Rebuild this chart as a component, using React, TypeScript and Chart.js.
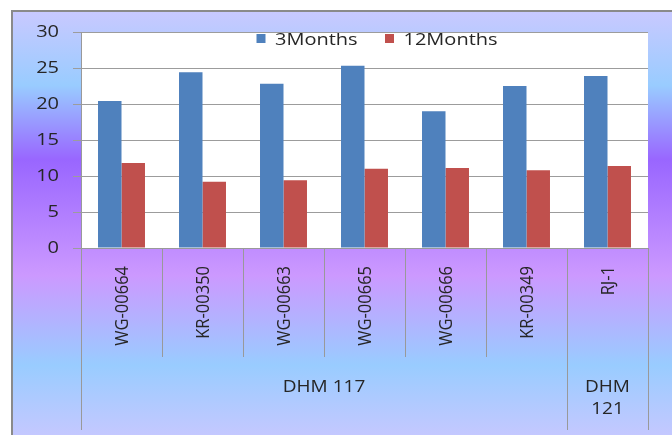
import React, { useEffect, useRef } from "react";
import { Chart, registerables } from "chart.js";

Chart.register(...registerables);

const categories = ["WG-00664", "KR-00350", "WG-00663", "WG-00665", "WG-00666", "KR-00349", "RJ-1"];
const groupLabels = [["DHM 117"], ["DHM", "121"]];
const groupSizes = [6, 1];
const seriesNames = ["3Months", "12Months"];
const months3 = [20.4, 24.4, 22.8, 25.3, 19.0, 22.5, 23.9];
const months12 = [11.8, 9.2, 9.4, 11.0, 11.1, 10.8, 11.4];
const yTicks = [0, 5, 10, 15, 20, 25, 30];

const BLUE = "#4f81bd";
const RED = "#c0504d";
const GRID = "#9c9c9c";
const AXIS = "#999999";
const TEXT = "#262626";
const W = 672;
const H = 435;

function stretchText(
  ctx: CanvasRenderingContext2D,
  text: string,
  x: number,
  y: number,
  font: string,
  align: CanvasTextAlign,
  sx: number,
  rotate = false
) {
  ctx.save();
  ctx.translate(x, y);
  ctx.scale(sx, 1);
  if (rotate) ctx.rotate(-Math.PI / 2);
  ctx.font = font;
  ctx.textAlign = align;
  ctx.textBaseline = "alphabetic";
  ctx.fillStyle = TEXT;
  ctx.fillText(text, 0, 0);
  ctx.restore();
}

const bgPlugin = {
  id: "bgPlugin",
  beforeDraw(chart: any) {
    const ctx: CanvasRenderingContext2D = chart.ctx;
    const { left, top, right, bottom } = chart.chartArea;
    ctx.save();
    ctx.fillStyle = "#ffffff";
    ctx.fillRect(0, 0, W, H);
    const g = ctx.createLinearGradient(0, 11, 0, H);
    g.addColorStop(0, "#c9c9ff");
    g.addColorStop(0.175, "#99ccff");
    g.addColorStop(0.351, "#9966ff");
    g.addColorStop(0.623, "#cc99ff");
    g.addColorStop(0.835, "#99ccff");
    g.addColorStop(1, "#c4c8ff");
    ctx.fillStyle = g;
    ctx.fillRect(12, 11, W - 12, H - 11);
    ctx.strokeStyle = "#8a8a8a";
    ctx.lineWidth = 2;
    ctx.beginPath();
    ctx.moveTo(12, H);
    ctx.lineTo(12, 11);
    ctx.lineTo(W, 11);
    ctx.stroke();
    ctx.fillStyle = "#ffffff";
    ctx.fillRect(left, top, right - left, bottom - top);
    ctx.restore();
  },
};

const labelsPlugin = {
  id: "labelsPlugin",
  afterDraw(chart: any) {
    const ctx: CanvasRenderingContext2D = chart.ctx;
    const { left, top, right, bottom } = chart.chartArea;
    const xs = chart.scales.x;
    const ys = chart.scales.y;
    const n = categories.length;
    const groupBottom = H - 5;
    const innerBottom = bottom + 109;

    // y tick labels
    for (const v of yTicks) {
      const py = ys.getPixelForValue(v);
      stretchText(ctx, String(v), left - 22, py + 5, "16px 'Open Sans'", "right", 1.25);
    }

    // boundaries
    const bounds: number[] = [left];
    for (let i = 1; i < n; i++) {
      bounds.push((xs.getPixelForValue(i - 1) + xs.getPixelForValue(i)) / 2);
    }
    bounds.push(right);

    const groupEdges = new Set<number>();
    let acc = 0;
    groupEdges.add(0);
    for (const s of groupSizes) {
      acc += s;
      groupEdges.add(acc);
    }

    ctx.save();
    ctx.strokeStyle = AXIS;
    ctx.lineWidth = 1;
    for (let i = 0; i <= n; i++) {
      const x = Math.round(bounds[i]) + 0.5;
      const y2 = groupEdges.has(i) ? groupBottom : innerBottom;
      ctx.beginPath();
      ctx.moveTo(x, bottom);
      ctx.lineTo(x, y2);
      ctx.stroke();
    }
    ctx.restore();

    // category labels rotated
    for (let i = 0; i < n; i++) {
      const cx = xs.getPixelForValue(i);
      stretchText(ctx, categories[i], cx + 6.5, bottom + 18, "16.5px 'Open Sans'", "right", 1.15, true);
    }

    // group labels
    acc = 0;
    groupSizes.forEach((s, gi) => {
      const x0 = bounds[acc];
      const x1 = bounds[acc + s];
      const cx = (x0 + x1) / 2;
      groupLabels[gi].forEach((line, li) => {
        stretchText(ctx, line, cx, bottom + 144 + li * 22, "17px 'Open Sans'", "center", 1.12);
      });
      acc += s;
    });

    // legend
    const colors = [BLUE, RED];
    const lx = left + 175.5;
    const steps = [0, 128.5];
    seriesNames.forEach((name, i) => {
      const x = lx + steps[i];
      ctx.save();
      ctx.fillStyle = colors[i];
      ctx.fillRect(x, top + 2, 9, 9);
      ctx.restore();
      stretchText(ctx, name, x + 18.5, top + 13, "16.4px 'Open Sans'", "left", 1.22);
    });
  },
};

export default function App() {
  const ref = useRef<HTMLCanvasElement>(null);
  useEffect(() => {
    const canvas = ref.current;
    if (!canvas) return;
    const chart = new Chart(canvas, {
      type: "bar",
      data: {
        labels: categories,
        datasets: [
          {
            label: seriesNames[0],
            data: months3,
            backgroundColor: BLUE,
            borderWidth: 0,
            categoryPercentage: 0.58,
            barPercentage: 1,
          },
          {
            label: seriesNames[1],
            data: months12,
            backgroundColor: RED,
            borderWidth: 0,
            categoryPercentage: 0.58,
            barPercentage: 1,
          },
        ],
      },
      options: {
        responsive: false,
        animation: false,
        devicePixelRatio: 1,
        layout: { padding: { left: 0, top: 32, right: 24, bottom: 0 } },
        plugins: { legend: { display: false }, tooltip: { enabled: false } },
        scales: {
          x: {
            grid: { display: false },
            border: { display: true, color: AXIS, width: 1 },
            ticks: { display: false },
            afterFit: (s: any) => {
              s.height = 187;
            },
          },
          y: {
            min: 0,
            max: 30,
            afterBuildTicks: (s: any) => {
              s.ticks = yTicks.map((v) => ({ value: v }));
            },
            ticks: { display: false },
            grid: { color: GRID, lineWidth: 1, tickLength: 8, drawTicks: true },
            border: { display: true, color: AXIS, width: 1 },
            afterFit: (s: any) => {
              s.width = 81;
            },
          },
        },
      },
      plugins: [bgPlugin, labelsPlugin],
    } as any);
    return () => chart.destroy();
  }, []);

  return (
    <div style={{ position: "fixed", left: 0, top: 0, width: W, height: H }}>
      <canvas ref={ref} width={W} height={H} style={{ display: "block", width: W, height: H }} />
    </div>
  );
}
